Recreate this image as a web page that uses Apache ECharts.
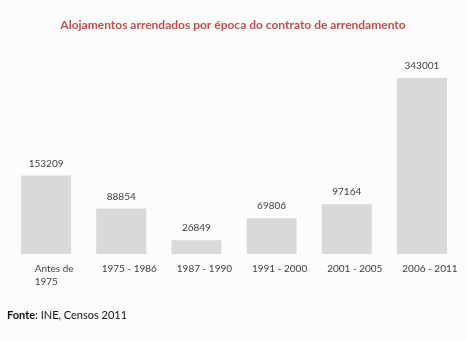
<!DOCTYPE html>
<html>
<head>
<meta charset="utf-8">
<script src="https://cdn.jsdelivr.net/npm/echarts@6/dist/echarts.min.js"></script>
<style>
  html, body { margin: 0; padding: 0; background: #fcfcfc; }
  #chart { width: 466px; height: 341px; }
</style>
</head>
<body>
<div id="chart"></div>
<script>
// Rented dwellings by period of the rental contract (Census 2011)
const categories = ['Antes de\n1975', '1975 - 1986', '1987 - 1990', '1991 - 2000', '2001 - 2005', '2006 - 2011'];
const dwellings = [153209, 88854, 26849, 69806, 97164, 343001];

const FONT = 'Lato, "Open Sans", sans-serif';

const chart = echarts.init(document.getElementById('chart'), null, { renderer: 'canvas' });

chart.setOption({
  backgroundColor: '#fcfcfc',
  animation: false,
  title: {
    text: 'Alojamentos arrendados por época do contrato de arrendamento',
    left: 'center',
    top: 14,
    textStyle: { color: '#c0504d', fontSize: 12, fontWeight: 'bold', fontFamily: FONT }
  },
  graphic: [{
    type: 'text',
    left: 7,
    top: 310,
    style: {
      text: '{b|Fonte}: INE, Censos 2011',
      rich: {
        b: { fontWeight: 'bold', fontSize: 11, fontFamily: FONT, fill: '#111' }
      },
      fontSize: 11,
      fontFamily: FONT,
      fill: '#111'
    }
  }],
  grid: { left: 8.5, right: 6.5, top: 78, bottom: 87, containLabel: false },
  xAxis: {
    type: 'category',
    data: categories,
    axisLine: { show: false },
    axisTick: { show: false },
    axisLabel: {
      interval: 0,
      margin: 8,
      color: '#404040',
      fontSize: 10,
      fontFamily: FONT,
      lineHeight: 13,
      padding: [0, 0, 0, 16],
      formatter: (v, i) => i === 0
        ? v.split('\n').map(s => '{l|' + s + '}').join('\n')
        : v,
      rich: {
        l: { align: 'left', color: '#404040', fontSize: 10, fontFamily: FONT, lineHeight: 13 }
      }
    }
  },
  yAxis: {
    type: 'value',
    min: 0,
    max: 343001,
    show: false,
    splitLine: { show: false }
  },
  series: [{
    type: 'bar',
    data: dwellings,
    barWidth: 50,
    itemStyle: { color: '#d9d9d9' },
    label: {
      show: true,
      position: 'top',
      distance: 7,
      color: '#404040',
      fontSize: 10,
      fontFamily: FONT
    }
  }]
});
</script>
</body>
</html>
